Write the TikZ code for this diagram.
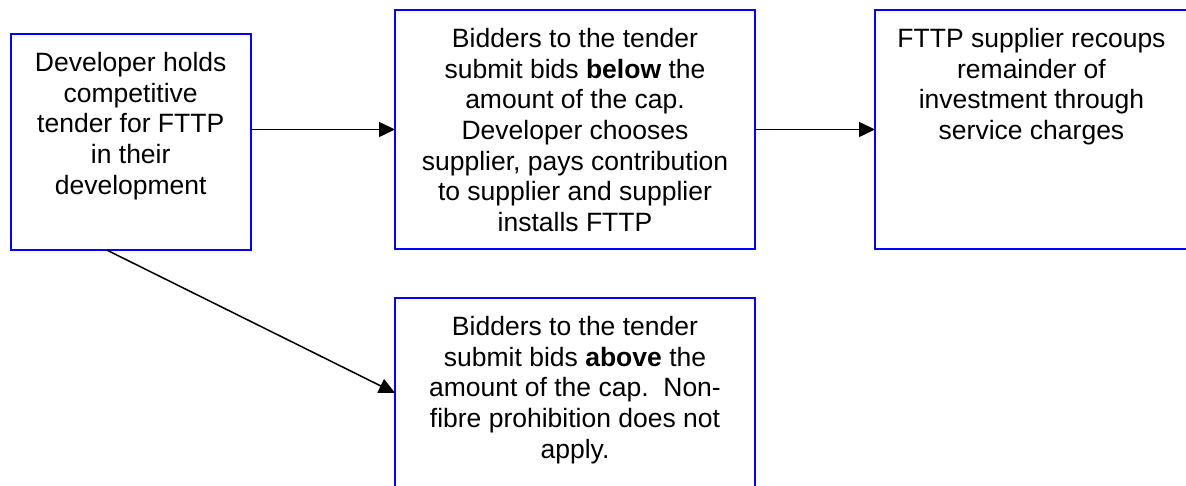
\documentclass[tikz,border=0pt]{standalone}
\usepackage{fontspec}
\setmainfont{Liberation Sans}
\usetikzlibrary{arrows.meta,calc}
\begin{document}
\begin{tikzpicture}[x=1pt,y=-1pt,
  box/.style={draw=blue, line width=2pt, rectangle, inner sep=0pt, outer sep=0pt, anchor=north west},
  txt/.style={anchor=north, inner sep=0pt, align=center, font=\fontsize{26.5}{30.7}\selectfont},
  arr/.style={draw=black, line width=1.5pt, -{Triangle[length=16pt,width=15pt]}}]
\useasboundingbox (0,0) rectangle (1186,486);
\fill[white] (0,0) rectangle (1186,486);
\clip (0,0) rectangle (1186,486);
\node[box, minimum width=240pt, minimum height=216pt] (a) at (10.7,34) {};
\node[box, minimum width=360pt, minimum height=239pt] (b) at (395,10) {};
\node[box, minimum width=313pt, minimum height=239pt] (c) at (875,10) {};
\node[box, minimum width=360pt, minimum height=220pt] (d) at (395,298) {};
\node[txt] (at) at ($(a.north)+(0,18)$) {Developer holds\\competitive\\tender for FTTP\\in their\\development};
\node[txt] (bt) at ($(b.north)+(0,18)$) {Bidders to the tender\\submit bids \textbf{below} the\\amount of the cap.\\Developer chooses\\supplier, pays contribution\\to supplier and supplier\\installs FTTP};
\node[txt] (ct) at ($(c.north)+(0,18)$) {FTTP supplier recoups\\remainder of\\investment through\\service charges};
\node[txt] (dt) at ($(d.north)+(0,18)$) {Bidders to the tender\\submit bids \textbf{above} the\\amount of the cap.\ \ Non-\\fibre prohibition does not\\apply.};
\coordinate (aout) at ($(a.south west)+(96,0)$);
\coordinate (din) at ($(d.north west)+(0,95)$);
\draw[arr] (a.east |- b.west) -- (b.west);
\draw[arr] (b.east) -- (c.west |- b.east);
\draw[arr] (aout) -- (din);
\end{tikzpicture}
\end{document}
